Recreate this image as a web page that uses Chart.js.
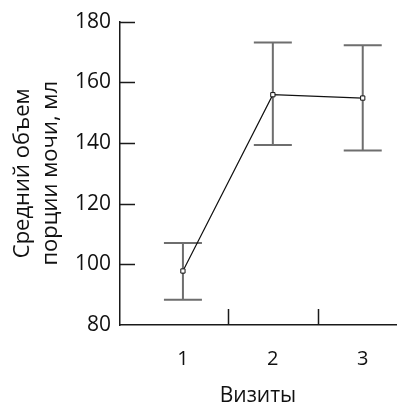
<!DOCTYPE html>
<html>
<head>
<meta charset="utf-8">
<script src="https://cdn.jsdelivr.net/npm/chart.js@4/dist/chart.umd.min.js"></script>
<style>
  html, body { margin: 0; padding: 0; background: #fff; }
  #wrap { width: 401px; height: 407px; }
</style>
</head>
<body>
<div id="wrap"><canvas id="chartVisits" width="401" height="407"></canvas></div>
<script>
// Данные
const visits = [1, 2, 3];
const meanVolume = [97.8, 155.9, 154.8];
const errUpper = [107, 173.1, 172.2];
const errLower = [88.3, 139.3, 137.5];
const yTicks = [80, 100, 120, 140, 160, 180];
const xDividers = [1.5, 2.5];

const FONT = "'Open Sans', sans-serif";
const AXIS_COLOR = '#1a1a1a';

// Планки погрешностей
const errorBars = {
    id: 'errorBars',
    beforeDatasetsDraw(chart) {
        const { ctx, scales: { x, y } } = chart;
        ctx.save();
        ctx.strokeStyle = '#6e6e6e';
        ctx.lineWidth = 2;
        visits.forEach((v, i) => {
            const px = x.getPixelForValue(v);
            const top = y.getPixelForValue(errUpper[i]);
            const bot = y.getPixelForValue(errLower[i]);
            ctx.beginPath();
            ctx.moveTo(px, top); ctx.lineTo(px, bot);
            ctx.moveTo(px - 19, top); ctx.lineTo(px + 19, top);
            ctx.moveTo(px - 19, bot); ctx.lineTo(px + 19, bot);
            ctx.stroke();
        });
        ctx.restore();
    }
};

// Внутренние засечки на осях
const innerTicks = {
    id: 'innerTicks',
    afterDraw(chart) {
        const { ctx, scales: { x, y } } = chart;
        ctx.save();
        ctx.strokeStyle = AXIS_COLOR;
        ctx.lineWidth = 1.5;
        ctx.beginPath();
        yTicks.slice(1).forEach(t => {
            const py = Math.round(y.getPixelForValue(t)) + 0.5;
            ctx.moveTo(y.right, py); ctx.lineTo(y.right + 15, py);
        });
        xDividers.forEach(t => {
            const px = Math.round(x.getPixelForValue(t)) + 0.5;
            ctx.moveTo(px, x.top); ctx.lineTo(px, x.top - 16);
        });
        ctx.stroke();
        ctx.restore();
    }
};

new Chart(document.getElementById('chartVisits'), {
    type: 'line',
    data: {
        datasets: [{
            data: visits.map((v, i) => ({ x: v, y: meanVolume[i] })),
            borderColor: '#111',
            borderWidth: 1.2,
            pointStyle: 'rect',
            pointRadius: 3,
            pointBorderWidth: 1,
            pointBorderColor: '#111',
            pointBackgroundColor: '#fff',
            tension: 0
        }]
    },
    options: {
        responsive: false,
        animation: false,
        layout: { padding: { top: 19, right: 0, left: 0, bottom: 0 } },
        plugins: { legend: { display: false }, tooltip: { enabled: false } },
        scales: {
            x: {
                type: 'linear',
                min: 0.30,
                max: 3.37,
                grid: { display: false, drawTicks: false },
                border: { display: true, color: AXIS_COLOR, width: 1.5 },
                afterBuildTicks: s => { s.ticks = visits.map(v => ({ value: v })); },
                afterFit: s => { s.height = 82; },
                ticks: {
                    padding: 22,
                    color: '#111',
                    font: { family: FONT, size: 20 },
                    callback: v => String(v)
                },
                title: {
                    display: true,
                    text: 'Визиты',
                    color: '#111',
                    font: { family: FONT, size: 21, lineHeight: 1 },
                    padding: { top: 0, bottom: 0 }
                }
            },
            y: {
                min: 80,
                max: 180,
                grid: { display: false, drawTicks: false },
                border: { display: true, color: AXIS_COLOR, width: 1.5 },
                afterBuildTicks: s => { s.ticks = yTicks.map(v => ({ value: v })); },
                afterFit: s => { s.width = 120; },
                ticks: {
                    padding: 9,
                    color: '#111',
                    font: { family: FONT, size: 21 }
                },
                title: {
                    display: true,
                    text: ['Средний объем', 'порции мочи, мл'],
                    color: '#111',
                    font: { family: FONT, size: 22, lineHeight: 1.27 },
                    padding: { top: 9, bottom: 0 }
                }
            }
        }
    },
    plugins: [errorBars, innerTicks]
});
</script>
</body>
</html>
